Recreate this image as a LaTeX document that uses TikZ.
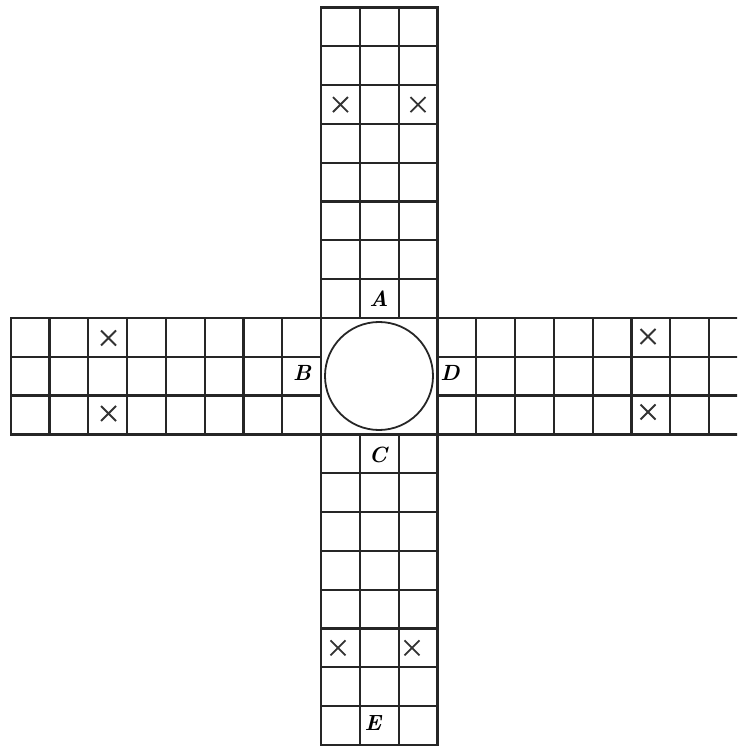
\documentclass[tikz,border=0pt]{standalone}
\begin{document}
\begin{tikzpicture}[x=0.5pt,y=-0.5pt,
  gridline/.style={line width=1.1pt,black!85,line cap=rect},
  xcross/.style={line width=0.9pt,black!80},
  lbl/.style={font=\fontsize{11}{12}\selectfont\bfseries\itshape,inner sep=0pt}]
\useasboundingbox (0,0) rectangle (737,747);
\clip (0,0) rectangle (737,747);
\def\s{38.8}
\def\xa{321}
\def\xb{437.4}
\def\ya{318}
\def\yb{434.4}
% long outer lines of the vertical arms and the centre square
\foreach \xx in {\xa,\xb}
  \draw[gridline] (\xx,{\ya-8*\s}) -- (\xx,{\yb+8*\s});
\foreach \yy in {\ya,\yb}
  \draw[gridline] ({\xa-8*\s},\yy) -- ({\xb+8*\s},\yy);
% inner lengthwise lines of the arms
\foreach \i in {1,2} {
  \draw[gridline] ({\xa+\i*\s},{\ya-8*\s}) -- ({\xa+\i*\s},\ya);
  \draw[gridline] ({\xa+\i*\s},\yb) -- ({\xa+\i*\s},{\yb+8*\s});
  \draw[gridline] ({\xa-8*\s},{\ya+\i*\s}) -- (\xa,{\ya+\i*\s});
  \draw[gridline] (\xb,{\ya+\i*\s}) -- ({\xb+8*\s},{\ya+\i*\s});
}
% cross lines of the arms
\foreach \j in {1,...,8} {
  \draw[gridline] (\xa,{\ya-\j*\s}) -- (\xb,{\ya-\j*\s});
  \draw[gridline] (\xa,{\yb+\j*\s}) -- (\xb,{\yb+\j*\s});
  \draw[gridline] ({\xa-\j*\s},\ya) -- ({\xa-\j*\s},\yb);
  \draw[gridline] ({\xb+\j*\s},\ya) -- ({\xb+\j*\s},\yb);
}
% centre circle
\draw[line width=0.9pt,black!85] (379,376) circle (54);
% crosses
\foreach \cx/\cy in {340.4/104.6, 418/104.6, 338/647.8, 412/647.8,
                      108.5/338, 108.5/413.5, 648/336.5, 648/412}
  \draw[xcross] (\cx-7.5,\cy-7.5) -- (\cx+7.5,\cy+7.5)
                (\cx-7.5,\cy+7.5) -- (\cx+7.5,\cy-7.5);
% labels
\node[lbl] (A) at (379,299) {A};
\node[lbl] (B) at (302,373) {B};
\node[lbl] (D) at (450,373) {D};
\node[lbl] (C) at (378,455) {C};
\node[lbl] (E) at (373,723) {E};
\end{tikzpicture}
\end{document}
